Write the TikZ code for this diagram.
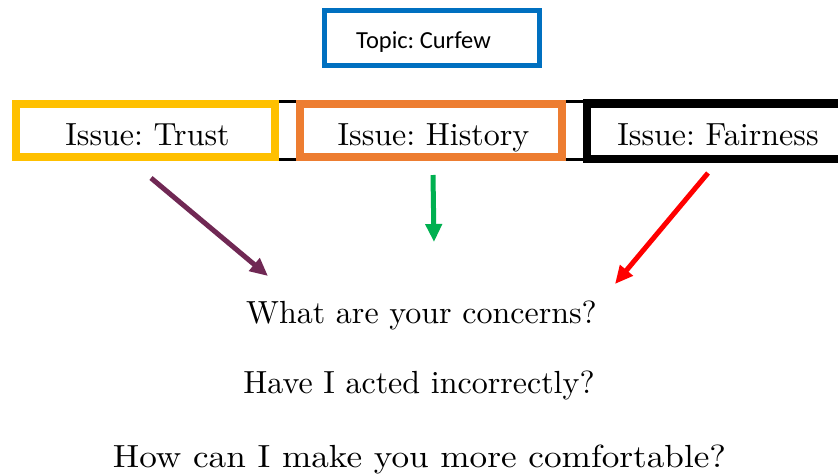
\documentclass[tikz,border=0pt]{standalone}
\usepackage{fontspec}
\setmainfont{lmroman10-regular.otf}
\newfontfamily\carlito{Carlito}
\usetikzlibrary{arrows.meta}
\frenchspacing
\definecolor{topicblue}{RGB}{0,112,192}
\definecolor{trustyellow}{RGB}{255,192,0}
\definecolor{historyorange}{RGB}{237,125,49}
\definecolor{plumarrow}{RGB}{112,40,84}
\definecolor{greenarrow}{RGB}{0,176,80}
\definecolor{redarrow}{RGB}{255,0,0}
\tikzset{
  issuebox/.style={draw, line width=8pt, fill=white, rectangle, inner sep=0pt, minimum height=53pt},
  issuetext/.style={anchor=base, inner sep=0pt, font=\fontsize{32}{38}\selectfont},
  question/.style={anchor=base, inner sep=0pt, font=\fontsize{32}{38}\selectfont},
  pointer/.style={line width=5pt, -{Triangle[length=18pt,width=16pt]}},
}
\begin{document}
\begin{tikzpicture}[x=1pt,y=-1pt]
\useasboundingbox (0,0) rectangle (838,475);
\clip (0,0) rectangle (838,475);
% topic
\node[draw=topicblue, line width=5pt, rectangle, inner sep=0pt, minimum width=215pt, minimum height=55.5pt] (topic) at (432,37.75) {};
\node[anchor=base, inner sep=0pt, font=\carlito\fontsize{24.5}{28}\selectfont] (topictext) at (423.5,48.5) {Topic: Curfew};
% thin black rails between the issue boxes
\coordinate (railTL) at (275,101.5);
\coordinate (railTR) at (587,101.5);
\coordinate (railBL) at (275,159.5);
\coordinate (railBR) at (587,159.5);
\draw[line width=3pt] (railTL) -- (railTR);
\draw[line width=3pt] (railBL) -- (railBR);
% issue boxes
\node[issuebox, draw=trustyellow, minimum width=259pt] (trust) at (145.5,130.5) {};
\node[issuebox, draw=historyorange, minimum width=262pt] (history) at (431,130.5) {};
\node[issuebox, draw=black, line width=8.5pt, minimum width=262pt, minimum height=55.5pt] (fairness) at (718,131.25) {};
\node[issuetext] (trusttext) at (147.5,145) {Issue: Trust};
\node[issuetext] (historytext) at (433.5,145) {Issue: History};
\node[issuetext] (fairnesstext) at (718,145) {Issue: Fairness};
% questions
\node[question] (q1) at (421.5,323) {What are your concerns?};
\node[question] (q2) at (419,393) {Have I acted incorrectly?};
\node[question] (q3) at (419.5,467) {\scalebox{1.1}[1]{How can I make you more comfortable?}};
% arrows
\coordinate (a1s) at (151,178);
\coordinate (a1e) at (268,276);
\coordinate (a2s) at (433,175);
\coordinate (a2e) at (434,242);
\coordinate (a3s) at (708,173);
\coordinate (a3e) at (615,284);
\draw[pointer, plumarrow] (a1s) -- (a1e);
\draw[pointer, greenarrow] (a2s) -- (a2e);
\draw[pointer, redarrow] (a3s) -- (a3e);
\end{tikzpicture}
\end{document}
